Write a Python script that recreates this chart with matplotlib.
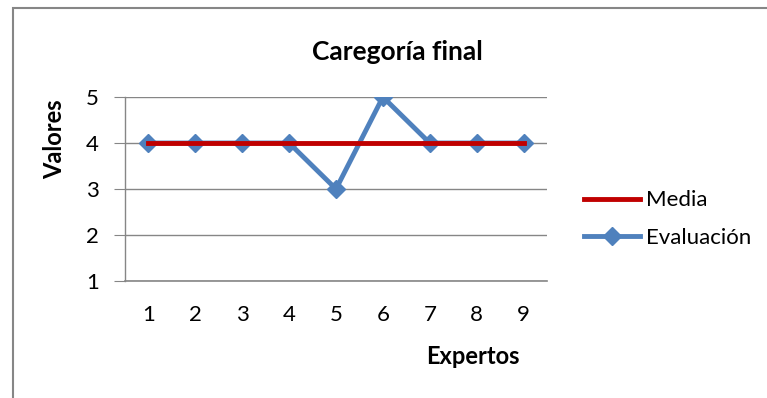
import matplotlib
matplotlib.use('Agg')
import matplotlib.pyplot as plt
from matplotlib.patches import Rectangle

plt.rcParams['font.family'] = ['Lato', 'DejaVu Sans']

# datos
expertos = [1, 2, 3, 4, 5, 6, 7, 8, 9]
evaluacion = [4, 4, 4, 4, 3, 5, 4, 4, 4]
media = [4, 4, 4, 4, 4, 4, 4, 4, 4]
y_ticks = [1, 2, 3, 4, 5]

W, H = 767, 398
fig = plt.figure(figsize=(W / 100, H / 100), dpi=100)

# marco exterior (solo se ven borde izquierdo y superior)
fig.patches.append(Rectangle((13 / W, -0.1), 1.2, 1 - 8 / H + 0.1,
                             transform=fig.transFigure, fill=False,
                             edgecolor='#868686', linewidth=1.5))

ax = fig.add_axes([125 / W, 1 - 281 / H, 422 / W, 184 / H])

ax.plot(expertos, evaluacion, color='#4F81BD', linewidth=3.5, marker='D',
        markersize=9, label='Evaluación', zorder=3)
ax.plot(expertos, media, color='#C00000', linewidth=3.5, label='Media',
        solid_capstyle='projecting', zorder=4)

ax.set_xlim(0.5, 9.5)
ax.set_ylim(1, 5)
ax.set_xticks(expertos)
ax.set_yticks(y_ticks)
ax.yaxis.grid(True, color='#868686', linewidth=1)
ax.set_axisbelow(True)
for s in ['top', 'right', 'bottom']:
    ax.spines[s].set_visible(False)
ax.spines['left'].set_color('#868686')
ax.spines['left'].set_linewidth(1)
ax.tick_params(axis='y', length=8, color='#868686', pad=11, labelsize=16)
ax.tick_params(axis='x', length=0, pad=17, labelsize=16)
# linea del eje x, se sale un poco a la izquierda como en Excel
ax.axhline(1, color='#868686', linewidth=1.2, clip_on=False, zorder=1)

fig.text(397 / W, 1 - 52 / H, 'Caregoría final', ha='center', va='center',
         fontsize=19, fontweight='bold')
fig.text(55 / W, 1 - 139 / H, 'Valores', ha='center', va='center',
         rotation=90, fontsize=17, fontweight='bold')
fig.text(473 / W, 1 - 357 / H, 'Expertos', ha='center', va='center',
         fontsize=17, fontweight='bold')

handles, labels = ax.get_legend_handles_labels()
fig.legend(handles[::-1], labels[::-1], loc='center left',
           bbox_to_anchor=(584 / W, 1 - 219 / H), frameon=False, fontsize=16,
           handlelength=2.5, handletextpad=0.3, labelspacing=0.78,
           borderaxespad=0, borderpad=0)

fig.savefig('out.png', dpi=100)
